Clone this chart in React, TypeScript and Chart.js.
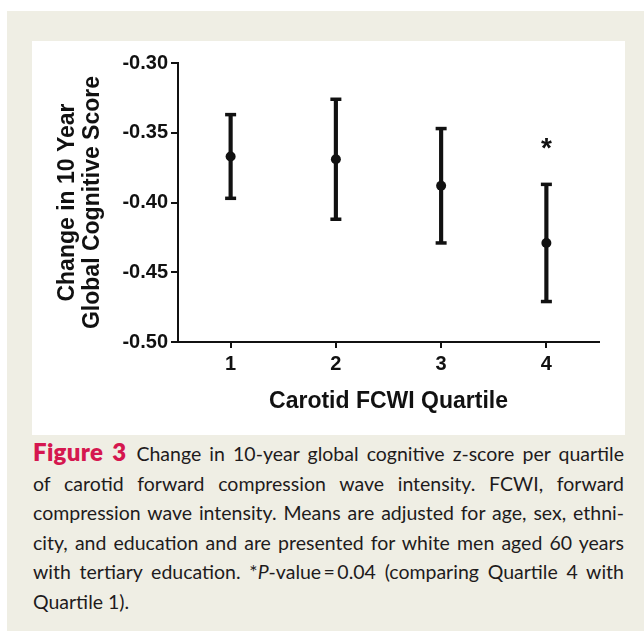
import React, { useEffect, useRef } from "react";
import { Chart, registerables } from "chart.js";

Chart.register(...registerables);

const quartiles = ["1", "2", "3", "4"];
const means = [-0.367, -0.369, -0.388, -0.429];
const lowers = [-0.397, -0.412, -0.429, -0.471];
const uppers = [-0.337, -0.326, -0.347, -0.387];
const yTicks = [-0.5, -0.45, -0.4, -0.35, -0.3];
const starIndex = 3;
const starValue = -0.356;

const captionLines = [
  "Change in 10-year global cognitive z-score per quartile",
  "of carotid forward compression wave intensity. FCWI, forward",
  "compression wave intensity. Means are adjusted for age, sex, ethni-",
  "city, and education and are presented for white men aged 60 years",
  "with tertiary education. *P-value\u2009=\u20090.04 (comparing Quartile 4 with",
  "Quartile 1).",
];

const FONT = "'Liberation Sans', Arial, Helvetica, sans-serif";

const starPlugin = {
  id: "starPlugin",
  afterDatasetsDraw(chart: any) {
    const { ctx, scales } = chart;
    const x = scales.x.getPixelForValue(starIndex);
    const y = scales.y.getPixelForValue(starValue);
    ctx.save();
    ctx.fillStyle = "#111";
    ctx.font = `bold 28px ${FONT}`;
    ctx.textAlign = "center";
    ctx.textBaseline = "alphabetic";
    ctx.fillText("*", x, y + 16);
    ctx.restore();
  },
};

function ChartBox() {
  const ref = useRef<HTMLCanvasElement | null>(null);
  useEffect(() => {
    if (!ref.current) return;
    const chart = new Chart(ref.current, {
      type: "bar",
      data: {
        labels: quartiles,
        datasets: [
          {
            type: "bar",
            data: lowers.map((l, i) => [l, uppers[i]]) as any,
            backgroundColor: "#111",
            borderWidth: 0,
            barThickness: 3.5,
            order: 3,
          } as any,
          {
            type: "line",
            data: lowers,
            showLine: false,
            pointStyle: "line",
            pointRadius: 5.5,
            pointBorderWidth: 3.5,
            pointBorderColor: "#111",
            pointBackgroundColor: "#111",
            order: 2,
          } as any,
          {
            type: "line",
            data: uppers,
            showLine: false,
            pointStyle: "line",
            pointRadius: 5.5,
            pointBorderWidth: 3.5,
            pointBorderColor: "#111",
            pointBackgroundColor: "#111",
            order: 2,
          } as any,
          {
            type: "line",
            data: means,
            showLine: false,
            pointStyle: "circle",
            pointRadius: 5,
            pointBorderWidth: 0,
            pointBackgroundColor: "#111",
            order: 1,
          } as any,
        ],
      },
      options: {
        animation: false,
        responsive: true,
        maintainAspectRatio: false,
        layout: { padding: { top: 22, right: 26, bottom: 0, left: 0 } },
        plugins: { legend: { display: false }, tooltip: { enabled: false } },
        scales: {
          x: {
            type: "category",
            offset: true,
            grid: {
              display: true,
              drawOnChartArea: false,
              drawTicks: true,
              tickLength: 6,
              color: "#111",
              lineWidth: 2,
              offset: false,
            },
            border: { display: true, color: "#111", width: 2 },
            ticks: {
              color: "#111",
              font: { family: FONT, size: 20, weight: "bold" },
              padding: 4,
            },
            title: {
              display: true,
              text: "Carotid FCWI Quartile",
              color: "#111",
              font: { family: FONT, size: 23, weight: "bold", lineHeight: 1.1 },
              padding: { top: 0, bottom: 23 },
            },
            afterFit(scale: any) {
              scale.height = 95;
            },
          },
          y: {
            type: "linear",
            min: -0.5,
            max: -0.3,
            afterBuildTicks(scale: any) {
              scale.ticks = yTicks.map((v) => ({ value: v }));
            },
            grid: {
              display: true,
              drawOnChartArea: false,
              drawTicks: true,
              tickLength: 7,
              color: "#111",
              lineWidth: 2,
            },
            border: { display: true, color: "#111", width: 2 },
            ticks: {
              color: "#111",
              font: { family: FONT, size: 20, weight: "bold" },
              padding: 3,
              callback: (v: any) => Number(v).toFixed(2),
            },
            title: {
              display: true,
              text: ["Change in 10 Year", "Global Cognitive Score"],
              color: "#111",
              font: { family: FONT, size: 23, weight: "bold", lineHeight: 1.09 },
              padding: { top: 23, bottom: 0 },
            },
            afterFit(scale: any) {
              scale.width = 146;
            },
          },
        },
      },
      plugins: [starPlugin],
    } as any);
    return () => chart.destroy();
  }, []);
  return (
    <div style={{ position: "relative", width: 593, height: 396 }}>
      <canvas ref={ref} />
    </div>
  );
}

export default function App() {
  return (
    <div
      style={{
        position: "absolute",
        left: 0,
        top: 0,
        width: 644,
        height: 631,
        background: "#ffffff",
        overflow: "hidden",
      }}
    >
      <div
        style={{
          position: "absolute",
          left: 7,
          top: 11,
          width: 637,
          height: 620,
          background: "#efeee4",
        }}
      />
      <div
        style={{
          position: "absolute",
          left: 32,
          top: 41,
          width: 593,
          height: 394,
          background: "#ffffff",
          overflow: "hidden",
        }}
      >
        <ChartBox />
      </div>
      <div
        style={{
          position: "absolute",
          left: 33,
          top: 437,
          width: 591,
          fontFamily: "Lato, 'Open Sans', sans-serif",
          fontSize: 19.5,
          color: "#1e1b1c",
          lineHeight: "29.5px",
        }}
      >
        {captionLines.map((line, i) => (
          <div
            key={i}
            style={{
              textAlign: i === captionLines.length - 1 ? "left" : "justify",
              textAlignLast: i === captionLines.length - 1 ? "left" : "justify",
              whiteSpace: "nowrap",
            }}
          >
            {i === 0 && (
              <span
                style={{
                  color: "#d5174f",
                  fontWeight: 800,
                  fontSize: 24,
                  letterSpacing: 0.3,
                  marginRight: 10,
                }}
              >
                Figure 3
              </span>
            )}
            {i === 4 ? (
              <>
                with tertiary education. *<i>P</i>-value{"\u2009=\u2009"}0.04 (comparing Quartile 4 with
              </>
            ) : (
              line
            )}
          </div>
        ))}
      </div>
    </div>
  );
}
